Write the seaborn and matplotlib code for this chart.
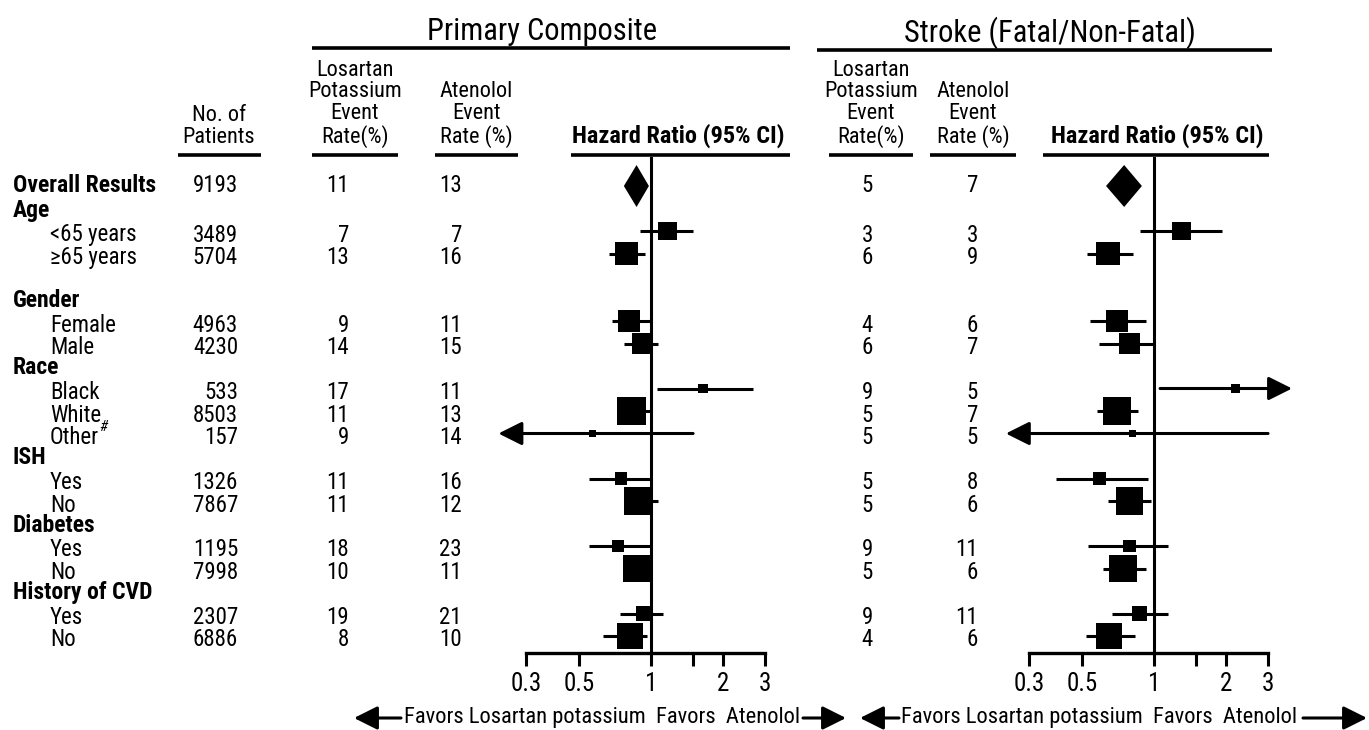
import numpy as np
import pandas as pd
import matplotlib
matplotlib.use("Agg")
import matplotlib.pyplot as plt
import seaborn as sns

# --- data ---
group_names = ["Age", "Gender", "Race", "ISH", "Diabetes", "History of CVD"]
row_labels = ["Overall Results", "<65 years", "\u226565 years", "Female", "Male",
              "Black", "White", "Other", "Yes", "No", "Yes", "No", "Yes", "No"]
row_groups = [None, "Age", "Age", "Gender", "Gender", "Race", "Race", "Race",
              "ISH", "ISH", "Diabetes", "Diabetes", "History of CVD", "History of CVD"]
n_patients = [9193, 3489, 5704, 4963, 4230, 533, 8503, 157, 1326, 7867, 1195, 7998, 2307, 6886]

# Primary composite
pc_losartan = [11, 7, 13, 9, 14, 17, 11, 9, 11, 11, 18, 10, 19, 8]
pc_atenolol = [13, 7, 16, 11, 15, 11, 13, 14, 16, 12, 23, 11, 21, 10]
pc_hr = [0.87, 1.17, 0.79, 0.81, 0.92, 1.65, 0.83, 0.57, 0.75, 0.88, 0.73, 0.87, 0.93, 0.82]
pc_lo = [0.77, 0.90, 0.67, 0.69, 0.77, 1.06, 0.73, 0.23, 0.55, 0.78, 0.55, 0.77, 0.74, 0.63]
pc_hi = [0.98, 1.50, 0.94, 0.99, 1.07, 2.67, 0.99, 1.50, 0.99, 1.07, 0.99, 0.99, 1.12, 0.96]

# Stroke (fatal/non-fatal)
st_losartan = [5, 3, 6, 4, 6, 9, 5, 5, 5, 5, 9, 5, 9, 4]
st_atenolol = [7, 3, 9, 6, 7, 5, 7, 5, 8, 6, 11, 6, 11, 6]
st_hr = [0.75, 1.30, 0.64, 0.70, 0.79, 2.20, 0.70, 0.81, 0.59, 0.79, 0.79, 0.74, 0.87, 0.65]
st_lo = [0.63, 0.87, 0.525, 0.54, 0.59, 1.06, 0.58, 0.24, 0.39, 0.64, 0.53, 0.61, 0.67, 0.52]
st_hi = [0.89, 1.93, 0.82, 0.93, 1.00, 3.78, 0.86, 3.00, 0.94, 0.97, 1.14, 0.93, 1.14, 0.83]

tick_vals = [0.3, 0.5, 1, 1.5, 2, 3]
tick_text = ["0.3", "0.5", "1", "", "2", "3"]

# --- layout (pixels of the 1369x730 picture) ---
W, H = 1369, 730
ROW_TOP, ROW_STEP = 186, 22.5
TEXT_DY = 4
HEAD_DY = 2
AX_TOP, AX_BOT = 157, 653
PX_PER_LN = 103.8

sns.set_style("white")
plt.rcParams["font.family"] = ["Roboto Condensed", "Liberation Sans Narrow",
                               "Liberation Sans", "DejaVu Sans"]
plt.rcParams["text.color"] = "black"
plt.rcParams["xtick.color"] = "black"
FS = 16.5

# slot of each row (headers take a slot, blank line after Age)
slots, header_slots = [], {}
s = 0
prev = None
for g in row_groups:
    if g is not None and g != prev:
        if prev == "Age":
            s += 1
        header_slots[g] = s
        s += 1
    slots.append(s)
    s += 1
    prev = g
row_y = [ROW_TOP + ROW_STEP * k for k in slots]

fig = plt.figure(figsize=(W / 100, H / 100), dpi=100)
ax_t = fig.add_axes([0, 0, 1, 1])
ax_t.set_xlim(0, W)
ax_t.set_ylim(H, 0)
ax_t.axis("off")


def underline(x0, x1, y, lw=2.6):
    ax_t.plot([x0, x1], [y, y], color="black", lw=lw, solid_capstyle="butt")


# --- left table ---
for g, k in header_slots.items():
    ax_t.text(13, ROW_TOP + ROW_STEP * k + HEAD_DY, g, fontsize=17, fontweight="bold",
              va="center")
for i, lab in enumerate(row_labels):
    y = row_y[i] + TEXT_DY * (i > 0)
    if i == 0:
        ax_t.text(13, y, lab, fontsize=17, fontweight="bold", va="center")
    else:
        t = ax_t.text(50, y, lab, fontsize=FS, va="center")
        if lab == "Other":
            ax_t.annotate("#", xy=(1.0, 0.95), xycoords=t, fontsize=11,
                          ha="left", va="center", fontstyle="italic")
    ax_t.text(238, y, f"{n_patients[i]}", fontsize=FS, ha="right", va="center")
    ax_t.text(349, y, f"{pc_losartan[i]}", fontsize=FS, ha="right", va="center")
    ax_t.text(462, y, f"{pc_atenolol[i]}", fontsize=FS, ha="right", va="center")
    ax_t.text(873, y, f"{st_losartan[i]}", fontsize=FS, ha="right", va="center")
    ax_t.text(978, y, f"{st_atenolol[i]}", fontsize=FS, ha="right", va="center")

# --- headers ---
ax_t.text(542, 31, "Primary Composite", fontsize=22, ha="center", va="center")
underline(312, 790, 48)
ax_t.text(1050, 33, "Stroke (Fatal/Non-Fatal)", fontsize=22, ha="center", va="center")
underline(817, 1272, 50)

hdr_kw = dict(fontsize=16, ha="center", va="bottom", linespacing=1.05)
ax_t.text(219, 148, "No. of\nPatients", **hdr_kw)
underline(178, 261, 155)
for xc, x0, x1 in [(355, 312, 398), (871, 829, 913)]:
    ax_t.text(xc, 148, "Losartan\nPotassium\nEvent\nRate(%)", **hdr_kw)
    underline(x0, x1, 155)
for xc, x0, x1 in [(476, 435, 518), (973, 930, 1016)]:
    ax_t.text(xc, 148, "Atenolol\nEvent\nRate (%)", **hdr_kw)
    underline(x0, x1, 155)
for xc, x0, x1 in [(678, 571, 790), (1157, 1043, 1269)]:
    ax_t.text(xc, 148, "Hazard Ratio (95% CI)", fontsize=17.5, fontweight="bold",
              ha="center", va="bottom")
    underline(x0, x1, 155)

# --- footers ---
arrow_kw = dict(arrowstyle="-|>,head_length=0.9,head_width=0.45", color="black",
                lw=2.2, shrinkA=0, shrinkB=0, mutation_scale=16)
foot = "Favors Losartan potassium  Favors  Atenolol"
ax_t.text(800, 718, foot, fontsize=16.2, ha="right", va="center")
ax_t.annotate("", xy=(354, 718), xytext=(401, 718), arrowprops=arrow_kw)
ax_t.annotate("", xy=(846, 718), xytext=(803, 718), arrowprops=arrow_kw)
ax_t.text(901, 718, foot, fontsize=16.2, ha="left", va="center")
ax_t.annotate("", xy=(860, 718), xytext=(899, 718), arrowprops=arrow_kw)
ax_t.annotate("", xy=(1367, 718), xytext=(1303, 718), arrowprops=arrow_kw)


# --- forest panels ---
def forest(x_left, x_one, x_right, hr, lo, hi):
    ax = fig.add_axes([x_left / W, 1 - AX_BOT / H, (x_right - x_left) / W, (AX_BOT - AX_TOP) / H])
    ax.set_xscale("log")
    ax.set_xlim(np.exp((x_left - x_one) / PX_PER_LN), np.exp((x_right - x_one) / PX_PER_LN))
    ax.set_ylim(AX_BOT, AX_TOP)
    ax.patch.set_alpha(0)

    df = pd.DataFrame({"hr": hr, "lo": lo, "hi": hi, "y": row_y, "n": n_patients})
    sub = df.iloc[1:]

    # overall diamond
    d = df.iloc[0]
    h = 21
    ax.fill([d.lo, d.hr, d.hi, d.hr], [d.y, d.y - h, d.y, d.y + h], color="black", lw=0)

    # confidence intervals, arrows when they leave the 0.3-3 scale
    for r in sub.itertuples():
        if r.lo < tick_vals[0]:
            ax.annotate("", xy=(r.lo, r.y), xytext=(r.hi, r.y), arrowprops=arrow_kw)
        elif r.hi > tick_vals[-1]:
            ax.annotate("", xy=(r.hi, r.y), xytext=(r.lo, r.y), arrowprops=arrow_kw)
        else:
            ax.hlines(r.y, r.lo, r.hi, color="black", lw=2.2)

    sns.scatterplot(data=sub, x="hr", y="y", size="n", sizes=(18, 460),
                    size_norm=(0, max(n_patients)), marker="s", color="black",
                    linewidth=0, legend=False, ax=ax, zorder=3)

    ax.axvline(1, color="black", lw=2.2)
    for side in ["top", "right", "left"]:
        ax.spines[side].set_visible(False)
    ax.spines["bottom"].set_bounds(tick_vals[0], tick_vals[-1])
    ax.spines["bottom"].set_linewidth(2.4)
    ax.spines["bottom"].set_color("black")
    ax.set_xticks(tick_vals)
    ax.set_xticklabels(tick_text)
    ax.xaxis.set_minor_locator(matplotlib.ticker.NullLocator())
    ax.tick_params(axis="x", direction="out", length=9, width=2.2, pad=5,
                   labelsize=18, bottom=True)
    ax.set_yticks([])
    ax.set_xlabel("")
    ax.set_ylabel("")
    return ax


forest(480, 651, 810, pc_hr, pc_lo, pc_hi)
forest(990, 1154, 1369, st_hr, st_lo, st_hi)

fig.savefig("out.png", dpi=100)
